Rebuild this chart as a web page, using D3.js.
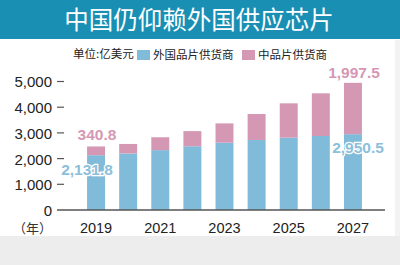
<!DOCTYPE html>
<html>
<head>
<meta charset="utf-8">
<script src="https://cdn.jsdelivr.net/npm/d3@7"></script>
<style>
body{margin:0;background:#fff;}
svg{display:block;font-family:"Liberation Sans",Arial,"Noto Sans CJK SC",sans-serif;}
</style>
</head>
<body>
<div id="graph"></div>
<script>
// 数据（亿美元）
var years=["2019","2020","2021","2022","2023","2024","2025","2026","2027"];
var foreignVals=[2131.8,2200,2330,2480,2620,2725,2815,2880,2950.5];
var chinaVals=[340.8,370,500,590,750,1010,1335,1660,1997.5];
var yTicks=[0,1000,2000,3000,4000,5000];
var xTickYears=["2019","2021","2023","2025","2027"];
var seriesNames=["外国品片供货商","中品片供货商"];

var width=400,height=265;
var blue="#80bcd9",pink="#d598b4";

var svg=d3.select("#graph").append("svg").attr("width",width).attr("height",height);

// 背景
svg.append("rect").attr("x",0).attr("y",0).attr("width",width).attr("height",height).attr("fill","#fff");
svg.append("rect").attr("x",0).attr("y",236).attr("width",width).attr("height",29).attr("fill","#ededed");
svg.append("rect").attr("x",395).attr("y",40).attr("width",5).attr("height",196).attr("fill","#f3f3f3");

// 标题
svg.append("rect").attr("x",0).attr("y",0).attr("width",width).attr("height",39).attr("fill","#1a8fb4");
svg.append("text").text("中国仍仰赖外国供应芯片")
	.attr("x",199).attr("y",28.5).attr("text-anchor","middle")
	.attr("fill","#fff").attr("font-size",24.5)
	.attr("font-family","Noto Sans CJK SC");

// 比例尺
var x=d3.scaleBand().domain(years).range([80,369]).paddingInner(0.44).paddingOuter(0.22);
var y=d3.scaleLinear().domain([0,5000]).range([210,81.5]);

// y轴
var yAxis=d3.axisLeft(y).tickValues(yTicks).tickSize(0).tickPadding(0)
	.tickFormat(function(d){return d3.format(",")(d)});
var gy=svg.append("g").attr("transform","translate(52,0)").call(yAxis);
gy.select(".domain").remove();
gy.selectAll("text").attr("font-size",15).attr("fill","#222").attr("dy","0.36em");
svg.append("g").selectAll("line").data(yTicks.slice(1)).enter().append("line")
	.attr("x1",57).attr("x2",64)
	.attr("y1",function(d){return y(d)}).attr("y2",function(d){return y(d)})
	.attr("stroke","#555").attr("stroke-width",1.2);

// 柱
var stack=years.map(function(d,i){return {year:d,a:foreignVals[i],b:chinaVals[i]}});
var g=svg.append("g");
g.selectAll(".fa").data(stack).enter().append("rect")
	.attr("x",function(d){return x(d.year)})
	.attr("width",x.bandwidth())
	.attr("y",function(d){return y(d.a)})
	.attr("height",function(d){return y(0)-y(d.a)})
	.attr("fill",blue);
g.selectAll(".cb").data(stack).enter().append("rect")
	.attr("x",function(d){return x(d.year)})
	.attr("width",x.bandwidth())
	.attr("y",function(d){return y(d.a+d.b)})
	.attr("height",function(d){return y(d.a)-y(d.a+d.b)})
	.attr("fill",pink);

// x轴
svg.append("line").attr("x1",57).attr("x2",385).attr("y1",y(0)).attr("y2",y(0))
	.attr("stroke","#555").attr("stroke-width",1.5);
svg.append("g").selectAll("text").data(xTickYears).enter().append("text")
	.text(function(d){return d})
	.attr("x",function(d){return x(d)+x.bandwidth()/2})
	.attr("y",233).attr("text-anchor","middle")
	.attr("font-size",14.5).attr("fill","#222");
svg.append("text").text("（年）").attr("x",52).attr("y",233).attr("text-anchor","end")
	.attr("font-size",13).attr("fill","#333").attr("font-family","Noto Sans CJK SC");

// 数值标签
var fmt=d3.format(",.1f");
var labels=[
	{v:chinaVals[0],x:97,y:140,c:pink},
	{v:foreignVals[0],x:87,y:175,c:"#8cc0da"},
	{v:chinaVals[8],x:354,y:78,c:pink},
	{v:foreignVals[8],x:358,y:153,c:"#8cc0da"}
];
svg.append("g").selectAll("text").data(labels).enter().append("text")
	.text(function(d){return fmt(d.v)})
	.attr("x",function(d){return d.x}).attr("y",function(d){return d.y})
	.attr("text-anchor","middle").attr("font-weight","bold").attr("font-size",15.5)
	.attr("fill",function(d){return d.c})
	.attr("stroke","#fff").attr("stroke-width",2.5).attr("paint-order","stroke");

// 图例
svg.append("text").text("单位:亿美元").attr("x",73).attr("y",58)
	.attr("font-size",11.5).attr("fill","#222").attr("font-family","Noto Sans CJK SC");
var leg=svg.append("g").selectAll("g").data(seriesNames).enter().append("g")
	.attr("transform",function(d,i){return "translate("+(i==0?137:242)+",50)"});
leg.append("rect").attr("width",13).attr("height",10)
	.attr("fill",function(d,i){return i==0?blue:pink});
leg.append("text").text(function(d){return d}).attr("x",16).attr("y",8.5)
	.attr("font-size",11.5).attr("fill","#222").attr("font-family","Noto Sans CJK SC");
</script>
</body>
</html>
